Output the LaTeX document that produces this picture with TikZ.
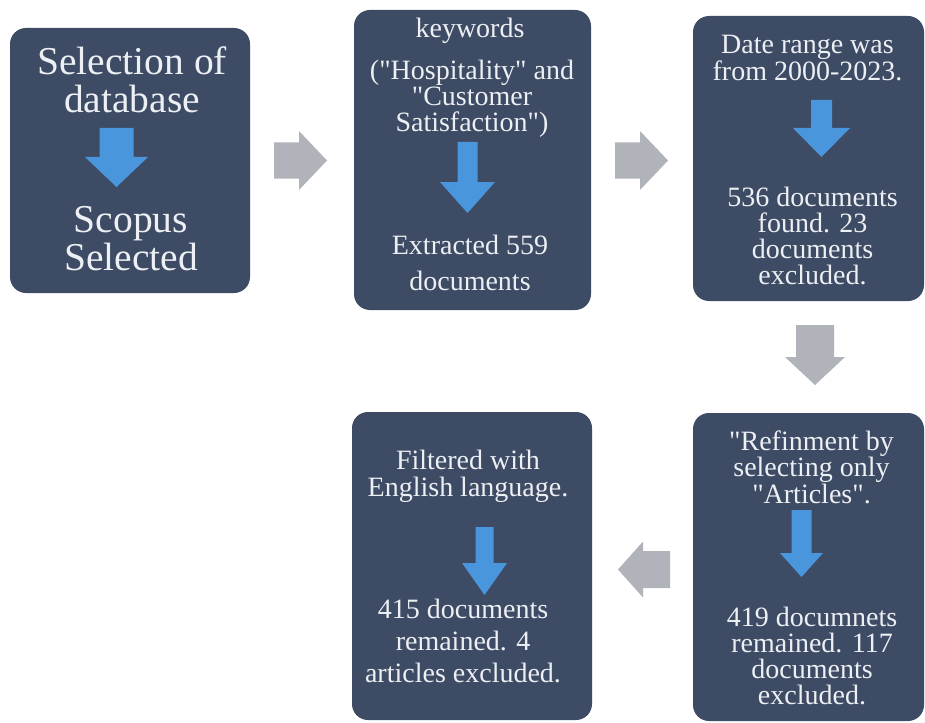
\documentclass[tikz,border=0pt]{standalone}
\usepackage{fontspec}
\setmainfont{Liberation Serif}[Ligatures=TeXOff]
\definecolor{boxc}{HTML}{3E4B64}
\definecolor{grayarr}{HTML}{B1B3BA}
\definecolor{bluearr}{HTML}{4A96DC}
\definecolor{txtc}{HTML}{ECEFF3}
% #1 colour, #2 cx, #3 cy, #4 angle, #5 length, #6 head width, #7 shaft width, #8 head length
\newcommand\blkarrow[8]{%
  \fill[#1, shift={(#2,#3)}, rotate=#4]
    (-#5/2,-#7/2) -- (#5/2-#8,-#7/2) -- (#5/2-#8,-#6/2) -- (#5/2,0)
    -- (#5/2-#8,#6/2) -- (#5/2-#8,#7/2) -- (-#5/2,#7/2) -- cycle;}
\begin{document}
\begin{tikzpicture}[x=1pt,y=-1pt,
  box/.style={fill=boxc, rounded corners=16pt, inner sep=0pt, draw=none},
  txt/.style={text=txtc, align=center, inner sep=0pt},
  smalltxt/.style={txt, font=\fontsize{28}{26}\selectfont},
  bigtxt/.style={txt, font=\fontsize{39.5}{38}\selectfont}]
\useasboundingbox[fill=white] (0,0) rectangle (925,722);

% boxes
\node[box, minimum width=240pt, minimum height=265pt] (b1) at (130,160.5) {};
\node[box, minimum width=237pt, minimum height=300pt] (b2) at (472.5,160) {};
\node[box, minimum width=231pt, minimum height=285pt] (b3) at (808.5,158.5) {};
\node[box, minimum width=231pt, minimum height=308pt] (b4) at (808.5,567) {};
\node[box, minimum width=240pt, minimum height=308pt] (b5) at (472,566) {};

% gray connector arrows
\blkarrow{grayarr}{300.5}{160.5}{0}{53}{59}{36}{28}
\blkarrow{grayarr}{641.5}{160.5}{0}{53}{59}{36}{28}
\blkarrow{grayarr}{815}{355}{-90}{60}{60}{38}{28}
\blkarrow{grayarr}{644}{569.5}{180}{52}{56}{37}{25}

% blue arrows inside boxes
\blkarrow{bluearr}{116.5}{157.5}{-90}{59}{63}{34}{30}
\blkarrow{bluearr}{467.5}{177.5}{-90}{71}{55}{20}{31}
\blkarrow{bluearr}{821.5}{128.5}{-90}{57}{57}{21}{29}
\blkarrow{bluearr}{801.5}{543.5}{-90}{67}{43}{20}{24}
\blkarrow{bluearr}{484.5}{561}{-90}{68}{45}{18}{32}

% texts
\node[bigtxt] (t1a) at (132,80) {Selection of\\database};
\node[bigtxt] (t1b) at (131,238.5) {Scopus\\Selected};

\node[smalltxt] (t2k) at (470,31) {keywords};
\node[smalltxt] (t2a) at (472,99) {("Hospitality" and\\"Customer\\Satisfaction")};
\node[smalltxt, font=\fontsize{28}{36}\selectfont] (t2b) at (470,263) {Extracted 559\\documents};

\node[smalltxt, font=\fontsize{28}{27}\selectfont] (t3a) at (807.5,58.5) {Date range was\\from 2000-2023.};
\node[smalltxt] (t3b) at (812.5,235.5) {536 documents\\found. 23\\documents\\excluded.};

\node[smalltxt, font=\fontsize{28}{24.5}\selectfont] (t4a) at (811.5,467) {"Refinment by\\selecting only\\"Articles".};
\node[smalltxt] (t4b) at (812,655.5) {419 documnets\\remained. 117\\documents\\excluded.};

\node[smalltxt, font=\fontsize{28}{27}\selectfont] (t5a) at (468,476.5) {Filtered with\\English language.};
\node[smalltxt, font=\fontsize{28}{32}\selectfont] (t5b) at (463,640.5) {415 documents\\remained. 4\\articles excluded.};
\end{tikzpicture}
\end{document}
